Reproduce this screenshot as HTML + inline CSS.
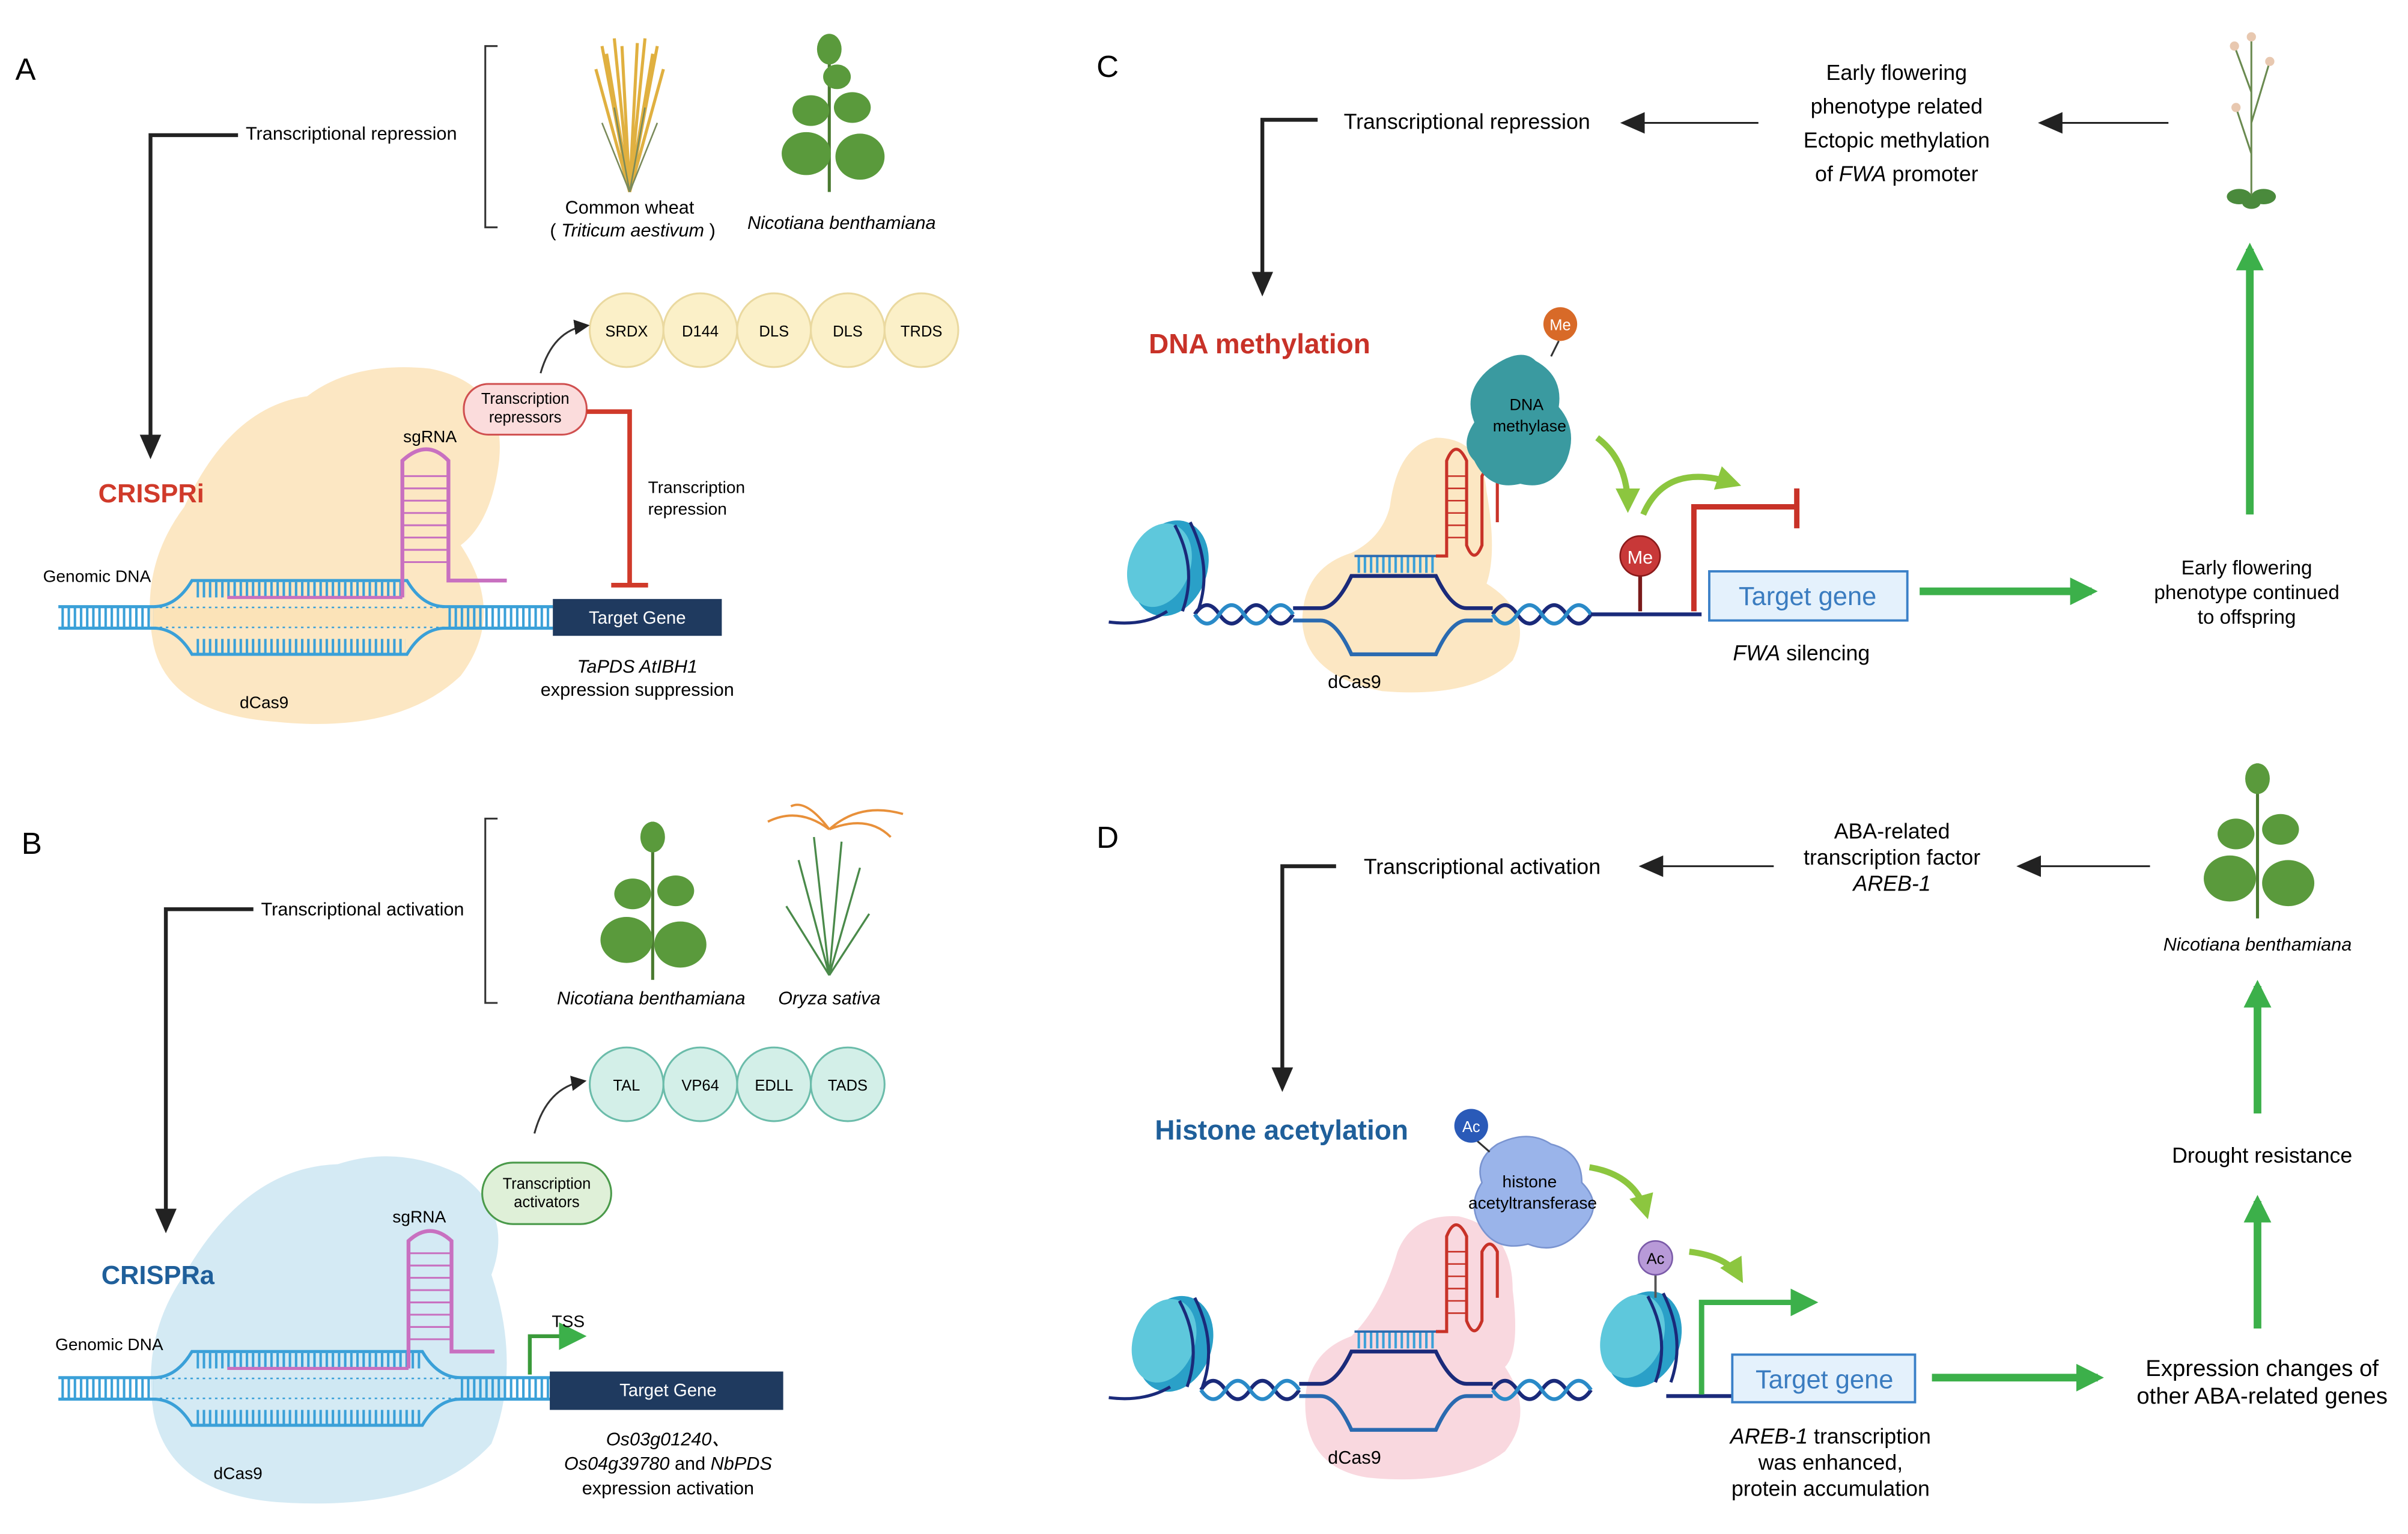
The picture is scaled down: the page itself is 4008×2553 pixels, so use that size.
<!DOCTYPE html>
<html><head><meta charset="utf-8"><style>
html,body{margin:0;padding:0;background:#fff;}
svg{display:block;}
text{font-family:"Liberation Sans",sans-serif;}
</style></head><body>
<svg width="4008" height="2553" viewBox="0 0 1568 998.8" preserveAspectRatio="none" xmlns="http://www.w3.org/2000/svg">
<defs>
<marker id="ab" markerWidth="10" markerHeight="10" refX="8" refY="5" orient="auto" markerUnits="userSpaceOnUse"><path d="M0,0 L10,5 L0,10 z" fill="#222"/></marker>
<marker id="abL" markerWidth="16" markerHeight="14" refX="13" refY="7" orient="auto" markerUnits="userSpaceOnUse"><path d="M0,0 L16,7 L0,14 z" fill="#222"/></marker>
<marker id="ag" markerWidth="18" markerHeight="18" refX="14" refY="9" orient="auto" markerUnits="userSpaceOnUse"><path d="M0,0 L18,9 L0,18 z" fill="#3cb04a"/></marker>
<marker id="alg" markerWidth="16" markerHeight="16" refX="12" refY="8" orient="auto" markerUnits="userSpaceOnUse"><path d="M0,0 L16,8 L0,16 z" fill="#8cc63f"/></marker>
<pattern id="lad" width="4" height="14" patternUnits="userSpaceOnUse"><rect width="1.6" height="14" fill="#3aa0d8"/></pattern>
</defs>

<!-- ============ PANEL A ============ -->
<text x="10" y="52" font-size="20">A</text>
<path d="M324,30 H316 V148 H324" fill="none" stroke="#333" stroke-width="1.2"/>
<text x="160" y="91" font-size="12">Transcriptional repression</text>
<path d="M155,88 H98 V296" fill="none" stroke="#222" stroke-width="2.5" marker-end="url(#abL)"/>
<g stroke="#e0b040" stroke-width="2" fill="none">
<path d="M410,125 L395,35 M410,125 L405,30 M410,125 L415,28 M410,125 L425,35 M410,125 L432,45 M410,125 L388,45 M410,125 L400,25 M410,125 L420,25 M410,125 L392,30 M410,125 L428,30"/>
</g>
<g stroke="#7a8a5a" stroke-width="1" fill="none"><path d="M410,125 L392,80 M410,125 L428,80 M410,125 L400,70 M410,125 L420,70"/></g>
<text x="410" y="139" font-size="12" text-anchor="middle">Common wheat</text>
<text x="412" y="154" font-size="12" text-anchor="middle">( <tspan font-style="italic">Triticum aestivum</tspan> )</text>
<g fill="#5a9a3c"><path d="M540,125 V25" stroke="#4a7a30" stroke-width="2"/>
<ellipse cx="525" cy="100" rx="16" ry="14"/><ellipse cx="560" cy="102" rx="16" ry="15"/><ellipse cx="528" cy="72" rx="12" ry="10"/><ellipse cx="555" cy="70" rx="12" ry="10"/><ellipse cx="540" cy="32" rx="8" ry="10"/><ellipse cx="545" cy="50" rx="9" ry="8"/></g>
<text x="548" y="149" font-size="12" font-style="italic" text-anchor="middle">Nicotiana benthamiana</text>
<g fill="#fbf0c8" stroke="#ead9a0" stroke-width="1.2">
<circle cx="408" cy="215" r="24"/><circle cx="456" cy="215" r="24"/><circle cx="504" cy="215" r="24"/><circle cx="552" cy="215" r="24"/><circle cx="600" cy="215" r="24"/></g>
<g font-size="10" text-anchor="middle"><text x="408" y="219">SRDX</text><text x="456" y="219">D144</text><text x="504" y="219">DLS</text><text x="552" y="219">DLS</text><text x="600" y="219">TRDS</text></g>
<path d="M352,243 Q360,215 382,212" fill="none" stroke="#333" stroke-width="1.2" marker-end="url(#ab)"/>
<path d="M120,330 Q150,265 200,258 Q230,235 280,240 Q330,250 325,300 Q320,340 300,355 Q330,400 300,440 Q260,478 180,470 Q110,465 100,420 Q90,370 120,330 Z" fill="#fbe3b8" opacity="0.85"/>
<rect x="38" y="395" width="322" height="14" fill="url(#lad)"/>
<path d="M38,395 H100 Q115,395 125,378 H265 Q275,395 290,395 H360 M38,409 H100 Q115,409 125,426 H265 Q275,409 290,409 H360" fill="none" stroke="#3aa0d8" stroke-width="2"/>
<rect x="100" y="396" width="192" height="12" fill="#fbe3b8"/>
<rect x="128" y="379" width="136" height="10" fill="url(#lad)"/>
<rect x="128" y="416" width="136" height="10" fill="url(#lad)"/>
<path d="M148,389 H262" stroke="#c870c0" stroke-width="2"/>
<path d="M262,389 V300 Q278,285 292,300 V378 Q300,378 330,378" fill="none" stroke="#c870c0" stroke-width="2.5"/>
<g stroke="#c870c0" stroke-width="1.2"><path d="M262,310 H292 M262,318 H292 M262,326 H292 M262,334 H292 M262,342 H292 M262,350 H292 M262,358 H292 M262,366 H292"/></g>
<text x="280" y="288" font-size="11" text-anchor="middle">sgRNA</text>
<text x="64" y="327" font-size="17" font-weight="bold" fill="#d03a2a">CRISPRi</text>
<text x="28" y="379" font-size="11">Genomic DNA</text>
<text x="172" y="461" font-size="11" text-anchor="middle">dCas9</text>
<rect x="360" y="390" width="110" height="24" fill="#1f3a5f"/>
<text x="415" y="406" font-size="11.5" fill="#fff" text-anchor="middle">Target Gene</text>
<text x="415" y="438" font-size="12" font-style="italic" text-anchor="middle">TaPDS AtIBH1</text>
<text x="415" y="453" font-size="12" text-anchor="middle">expression suppression</text>
<rect x="302" y="250" width="80" height="33" rx="16" fill="#fbdcdc" stroke="#d05050" stroke-width="1.2"/>
<text x="342" y="263" font-size="10" text-anchor="middle">Transcription</text>
<text x="342" y="275" font-size="10" text-anchor="middle">repressors</text>
<path d="M382,268 H410 V380" fill="none" stroke="#d03a2a" stroke-width="3"/>
<path d="M398,381 H422" stroke="#d03a2a" stroke-width="3"/>
<text x="422" y="321" font-size="11">Transcription</text>
<text x="422" y="335" font-size="11">repression</text>

<!-- ============ PANEL B ============ -->
<text x="14" y="556" font-size="20">B</text>
<path d="M324,533 H316 V653 H324" fill="none" stroke="#333" stroke-width="1.2"/>
<text x="170" y="596" font-size="12">Transcriptional activation</text>
<path d="M165,592 H108 V800" fill="none" stroke="#222" stroke-width="2.5" marker-end="url(#abL)"/>
<g fill="#5a9a3c"><path d="M425,638 V535" stroke="#4a7a30" stroke-width="2"/>
<ellipse cx="408" cy="612" rx="17" ry="15"/><ellipse cx="443" cy="615" rx="17" ry="15"/><ellipse cx="412" cy="582" rx="12" ry="10"/><ellipse cx="440" cy="580" rx="12" ry="10"/><ellipse cx="425" cy="545" rx="8" ry="10"/></g>
<g stroke="#e8903a" stroke-width="1.5" fill="none"><path d="M540,540 Q520,525 500,535 M540,540 Q560,522 588,530 M540,540 Q525,520 515,525 M540,540 Q565,530 580,545"/></g>
<g stroke="#4a8a4a" stroke-width="1.3" fill="none"><path d="M540,635 L520,560 M540,635 L530,545 M540,635 L548,548 M540,635 L560,565 M540,635 L512,590 M540,635 L566,595"/></g>
<text x="424" y="654" font-size="12" font-style="italic" text-anchor="middle">Nicotiana benthamiana</text>
<text x="540" y="654" font-size="12" font-style="italic" text-anchor="middle">Oryza sativa</text>
<g fill="#d3efe8" stroke="#6bbcaa" stroke-width="1.2">
<circle cx="408" cy="706" r="24"/><circle cx="456" cy="706" r="24"/><circle cx="504" cy="706" r="24"/><circle cx="552" cy="706" r="24"/></g>
<g font-size="10" text-anchor="middle"><text x="408" y="710">TAL</text><text x="456" y="710">VP64</text><text x="504" y="710">EDLL</text><text x="552" y="710">TADS</text></g>
<path d="M348,738 Q356,708 380,704" fill="none" stroke="#333" stroke-width="1.2" marker-end="url(#ab)"/>
<path d="M120,830 Q160,760 220,758 Q260,745 300,765 Q335,790 320,830 Q340,890 320,940 Q280,985 180,978 Q110,972 100,920 Q92,870 120,830 Z" fill="#cfe8f3" opacity="0.9"/>
<rect x="38" y="897" width="322" height="14" fill="url(#lad)"/>
<path d="M38,897 H100 Q115,897 125,880 H275 Q285,897 300,897 H360 M38,911 H100 Q115,911 125,928 H275 Q285,911 300,911 H360" fill="none" stroke="#3aa0d8" stroke-width="2"/>
<rect x="100" y="898" width="200" height="12" fill="#cfe8f3"/>
<rect x="128" y="881" width="146" height="10" fill="url(#lad)"/>
<rect x="128" y="918" width="146" height="10" fill="url(#lad)"/>
<path d="M148,891 H266" stroke="#c870c0" stroke-width="2"/>
<path d="M266,891 V808 Q280,795 294,808 V880 Q300,880 322,880" fill="none" stroke="#c870c0" stroke-width="2.5"/>
<g stroke="#c870c0" stroke-width="1.2"><path d="M266,816 H294 M266,824 H294 M266,832 H294 M266,840 H294 M266,848 H294 M266,856 H294 M266,864 H294 M266,872 H294"/></g>
<text x="273" y="796" font-size="11" text-anchor="middle">sgRNA</text>
<text x="66" y="836" font-size="17" font-weight="bold" fill="#1f5f9a">CRISPRa</text>
<text x="36" y="879" font-size="11">Genomic DNA</text>
<text x="155" y="963" font-size="11" text-anchor="middle">dCas9</text>
<rect x="358" y="893" width="152" height="25" fill="#1f3a5f"/>
<text x="435" y="909" font-size="11.5" fill="#fff" text-anchor="middle">Target Gene</text>
<path d="M345,895 V870 H378" fill="none" stroke="#3a9a3a" stroke-width="2.5" marker-end="url(#ag)"/>
<text x="370" y="864" font-size="11" text-anchor="middle">TSS</text>
<rect x="314" y="757" width="84" height="40" rx="20" fill="#dff0d8" stroke="#4a9a4a" stroke-width="1.2"/>
<text x="356" y="774" font-size="10" text-anchor="middle">Transcription</text>
<text x="356" y="786" font-size="10" text-anchor="middle">activators</text>
<text x="435" y="941" font-size="12" font-style="italic" text-anchor="middle">Os03g01240、</text>
<text x="435" y="957" font-size="12" text-anchor="middle"><tspan font-style="italic">Os04g39780</tspan> and <tspan font-style="italic">NbPDS</tspan></text>
<text x="435" y="973" font-size="12" text-anchor="middle">expression activation</text>

<!-- ============ PANEL C ============ -->
<text x="714" y="50" font-size="20">C</text>
<text x="875" y="84" font-size="14">Transcriptional repression</text>
<path d="M1145,80 H1058" stroke="#222" stroke-width="1.2" marker-end="url(#abL)"/>
<g font-size="14" text-anchor="middle"><text x="1235" y="52">Early flowering</text><text x="1235" y="74">phenotype related</text><text x="1235" y="96">Ectopic methylation</text><text x="1235" y="118">of <tspan font-style="italic">FWA</tspan> promoter</text></g>
<path d="M1412,80 H1330" stroke="#222" stroke-width="1.2" marker-end="url(#abL)"/>
<path d="M858,78 H822 V190" fill="none" stroke="#222" stroke-width="2.5" marker-end="url(#abL)"/>
<text x="748" y="230" font-size="18" font-weight="bold" fill="#c83228">DNA methylation</text>
<g stroke="#6a8a50" stroke-width="1.2" fill="none"><path d="M1466,128 V25 M1466,60 L1455,30 M1466,80 L1478,40 M1466,100 L1456,70"/></g>
<g fill="#e8c8b0"><circle cx="1455" cy="30" r="3"/><circle cx="1478" cy="40" r="3"/><circle cx="1466" cy="24" r="3"/><circle cx="1456" cy="70" r="3"/></g>
<g fill="#4a8a3c"><ellipse cx="1458" cy="128" rx="8" ry="5"/><ellipse cx="1474" cy="128" rx="8" ry="5"/><ellipse cx="1466" cy="132" rx="6" ry="4"/></g>
<path d="M1465,335 V162" stroke="#3cb04a" stroke-width="5" marker-end="url(#ag)"/>
<g font-size="13" text-anchor="middle"><text x="1463" y="374">Early flowering</text><text x="1463" y="390">phenotype continued</text><text x="1463" y="406">to offspring</text></g>
<path d="M905,330 Q910,290 935,285 Q965,285 968,320 Q975,360 968,380 Q1000,400 985,430 Q960,455 900,450 Q850,440 848,405 Q848,370 880,360 Q900,350 905,330 Z" fill="#fbe3b8" opacity="0.85"/>
<g><ellipse cx="762" cy="370" rx="24" ry="32" fill="#2aa0c8" transform="rotate(20 762 370)"/><ellipse cx="755" cy="368" rx="20" ry="28" fill="#5ec8dc" transform="rotate(20 755 368)"/>
<path d="M765,342 Q780,370 770,398 M775,340 Q790,370 780,398" stroke="#1a2a7a" stroke-width="2" fill="none"/></g>
<path d="M722,405 Q745,408 760,398" stroke="#1a2a7a" stroke-width="2" fill="none"/>
<g fill="none" stroke-width="2.5">
<path d="M778,400 q8,-12 16,0 t16,0 t16,0 t16,0" stroke="#1a2a7a"/><path d="M778,400 q8,12 16,0 t16,0 t16,0 t16,0" stroke="#2a8ac8"/>
<path d="M972,400 q8,-12 16,0 t16,0 t16,0 t16,0" stroke="#1a2a7a"/><path d="M972,400 q8,12 16,0 t16,0 t16,0 t16,0" stroke="#2a8ac8"/>
<path d="M842,396 H860 Q870,396 880,375 H935 Q945,396 955,396 H972" stroke="#1a2a7a"/>
<path d="M842,404 H860 Q870,404 880,426 H935 Q945,404 955,404 H972" stroke="#2a6ab0"/>
<path d="M1036,400 H1108" stroke="#1a2a7a"/></g>
<rect x="882" y="362" width="52" height="11" fill="url(#lad)"/>
<path d="M882,362 H935" stroke="#2a6ab0" stroke-width="1.5"/>
<path d="M935,362 H942 V300 Q948,285 955,300 V355 Q960,368 965,355 V310 Q970,300 975,310 V340" fill="none" stroke="#c83228" stroke-width="2"/>
<g stroke="#c83228" stroke-width="1"><path d="M942,310 H955 M942,318 H955 M942,326 H955 M942,334 H955 M942,342 H955 M942,350 H955"/></g>
<path d="M970,240 Q990,225 1000,235 Q1018,245 1015,265 Q1028,280 1020,300 Q1010,320 990,315 Q970,320 960,300 Q950,290 960,275 Q952,255 970,240 Z" fill="#3a9aa0"/>
<text x="994" y="267" font-size="10.5" text-anchor="middle">DNA</text>
<text x="996" y="281" font-size="10.5" text-anchor="middle">methylase</text>
<path d="M1010,232 L1015,222" stroke="#333" stroke-width="1.2"/>
<circle cx="1016" cy="211" r="11" fill="#d86a28"/><text x="1016" y="215" font-size="10" fill="#fff" text-anchor="middle">Me</text>
<path d="M1040,285 Q1060,300 1060,330" fill="none" stroke="#8cc63f" stroke-width="4" marker-end="url(#alg)"/>
<path d="M1070,335 Q1085,300 1130,315" fill="none" stroke="#8cc63f" stroke-width="4" marker-end="url(#alg)"/>
<path d="M1068,398 V372" stroke="#7a1a1a" stroke-width="2.5"/>
<circle cx="1068" cy="362" r="13" fill="#c83838" stroke="#8a1a1a"/><text x="1068" y="367" font-size="12" fill="#fff" text-anchor="middle">Me</text>
<path d="M1103,398 V330 H1170" fill="none" stroke="#c83228" stroke-width="3.5"/>
<path d="M1170,318 V344" stroke="#c83228" stroke-width="3.5"/>
<rect x="1113" y="372" width="129" height="32" fill="#e4f1fc" stroke="#3a80c8" stroke-width="1.5"/>
<text x="1177" y="394" font-size="17" fill="#3a7cc0" text-anchor="middle">Target gene</text>
<text x="1173" y="430" font-size="14" text-anchor="middle"><tspan font-style="italic">FWA</tspan> silencing</text>
<text x="882" y="448" font-size="12" text-anchor="middle">dCas9</text>
<path d="M1250,385 H1362" stroke="#3cb04a" stroke-width="5" marker-end="url(#ag)"/>

<!-- ============ PANEL D ============ -->
<text x="714" y="552" font-size="20">D</text>
<text x="888" y="569" font-size="14">Transcriptional activation</text>
<path d="M1155,564 H1070" stroke="#222" stroke-width="1.2" marker-end="url(#abL)"/>
<g font-size="14" text-anchor="middle"><text x="1232" y="546">ABA-related</text><text x="1232" y="563">transcription factor</text><text x="1232" y="580" font-style="italic">AREB-1</text></g>
<path d="M1400,564 H1316" stroke="#222" stroke-width="1.2" marker-end="url(#abL)"/>
<path d="M870,564 H835 V708" fill="none" stroke="#222" stroke-width="2.5" marker-end="url(#abL)"/>
<text x="752" y="742" font-size="18" font-weight="bold" fill="#1f5f9a">Histone acetylation</text>
<g fill="#5a9a3c"><path d="M1470,598 V497" stroke="#4a7a30" stroke-width="2"/>
<ellipse cx="1452" cy="572" rx="17" ry="15"/><ellipse cx="1490" cy="575" rx="17" ry="15"/><ellipse cx="1456" cy="543" rx="12" ry="10"/><ellipse cx="1485" cy="540" rx="12" ry="10"/><ellipse cx="1470" cy="507" rx="8" ry="10"/></g>
<text x="1470" y="619" font-size="12" font-style="italic" text-anchor="middle">Nicotiana benthamiana</text>
<path d="M1470,725 V642" stroke="#3cb04a" stroke-width="5" marker-end="url(#ag)"/>
<text x="1473" y="757" font-size="14" text-anchor="middle">Drought resistance</text>
<path d="M1470,865 V782" stroke="#3cb04a" stroke-width="5" marker-end="url(#ag)"/>
<text x="1473" y="896" font-size="15" text-anchor="middle">Expression changes of</text>
<text x="1473" y="914" font-size="15" text-anchor="middle">other ABA-related genes</text>
<path d="M910,815 Q920,790 950,792 Q985,800 985,840 Q990,880 980,890 Q1000,920 980,945 Q950,968 890,962 Q848,955 850,910 Q852,880 880,870 Q900,850 910,815 Z" fill="#f8d4dc" opacity="0.9"/>
<g><ellipse cx="765" cy="875" rx="24" ry="32" fill="#2aa0c8" transform="rotate(20 765 875)"/><ellipse cx="758" cy="873" rx="20" ry="28" fill="#5ec8dc" transform="rotate(20 758 873)"/>
<path d="M768,847 Q783,875 773,903 M778,845 Q793,875 783,903" stroke="#1a2a7a" stroke-width="2" fill="none"/></g>
<g><ellipse cx="1070" cy="872" rx="24" ry="32" fill="#2aa0c8" transform="rotate(20 1070 872)"/><ellipse cx="1063" cy="870" rx="20" ry="28" fill="#5ec8dc" transform="rotate(20 1063 870)"/>
<path d="M1073,844 Q1088,872 1078,900 M1083,842 Q1098,872 1088,900" stroke="#1a2a7a" stroke-width="2" fill="none"/></g>
<path d="M722,910 Q745,913 762,903" stroke="#1a2a7a" stroke-width="2" fill="none"/>
<g fill="none" stroke-width="2.5">
<path d="M782,905 q8,-12 16,0 t16,0 t16,0 t16,0" stroke="#1a2a7a"/><path d="M782,905 q8,12 16,0 t16,0 t16,0 t16,0" stroke="#2a8ac8"/>
<path d="M972,905 q8,-12 16,0 t16,0 t16,0 t16,0" stroke="#1a2a7a"/><path d="M972,905 q8,12 16,0 t16,0 t16,0 t16,0" stroke="#2a8ac8"/>
<path d="M846,901 H860 Q870,901 880,880 H935 Q945,901 955,901 H972" stroke="#1a2a7a"/>
<path d="M846,909 H860 Q870,909 880,931 H935 Q945,909 955,909 H972" stroke="#2a6ab0"/>
<path d="M1085,909 H1128" stroke="#1a2a7a"/></g>
<rect x="882" y="867" width="52" height="11" fill="url(#lad)"/>
<path d="M882,867 H935" stroke="#2a6ab0" stroke-width="1.5"/>
<path d="M935,867 H942 V805 Q948,790 955,805 V860 Q960,873 965,860 V815 Q970,805 975,815 V845" fill="none" stroke="#c83228" stroke-width="2"/>
<g stroke="#c83228" stroke-width="1"><path d="M942,815 H955 M942,823 H955 M942,831 H955 M942,839 H955 M942,847 H955 M942,855 H955"/></g>
<path d="M975,745 Q995,735 1010,745 Q1030,750 1030,770 Q1045,785 1030,800 Q1015,818 995,810 Q975,815 965,800 Q955,785 965,770 Q960,755 975,745 Z" fill="#9ab4ea" stroke="#7a94d0" stroke-width="1"/>
<text x="996" y="773" font-size="11" text-anchor="middle">histone</text>
<text x="998" y="787" font-size="11" text-anchor="middle">acetyltransferase</text>
<path d="M962,743 L970,750" stroke="#333" stroke-width="1.2"/>
<circle cx="958" cy="733" r="11" fill="#2a5ab8"/><text x="958" y="737" font-size="10" fill="#fff" text-anchor="middle">Ac</text>
<path d="M1035,760 Q1065,765 1072,790" fill="none" stroke="#8cc63f" stroke-width="4" marker-end="url(#alg)"/>
<path d="M1100,815 Q1125,818 1133,832" fill="none" stroke="#8cc63f" stroke-width="4" marker-end="url(#alg)"/>
<path d="M1078,830 V845" stroke="#555" stroke-width="1.5"/>
<circle cx="1078" cy="819" r="11" fill="#b89ad8" stroke="#7a5aa8"/><text x="1078" y="823" font-size="10" text-anchor="middle">Ac</text>
<path d="M1108,908 V848 H1180" fill="none" stroke="#3cb04a" stroke-width="3.5" marker-end="url(#ag)"/>
<rect x="1128" y="882" width="119" height="31" fill="#e4f1fc" stroke="#3a80c8" stroke-width="1.5"/>
<text x="1188" y="904" font-size="17" fill="#3a7cc0" text-anchor="middle">Target gene</text>
<g font-size="14" text-anchor="middle"><text x="1192" y="940"><tspan font-style="italic">AREB-1</tspan> transcription</text><text x="1192" y="957">was enhanced,</text><text x="1192" y="974">protein accumulation</text></g>
<text x="882" y="953" font-size="12" text-anchor="middle">dCas9</text>
<path d="M1258,897 H1366" stroke="#3cb04a" stroke-width="5" marker-end="url(#ag)"/>
</svg>
</body></html>
